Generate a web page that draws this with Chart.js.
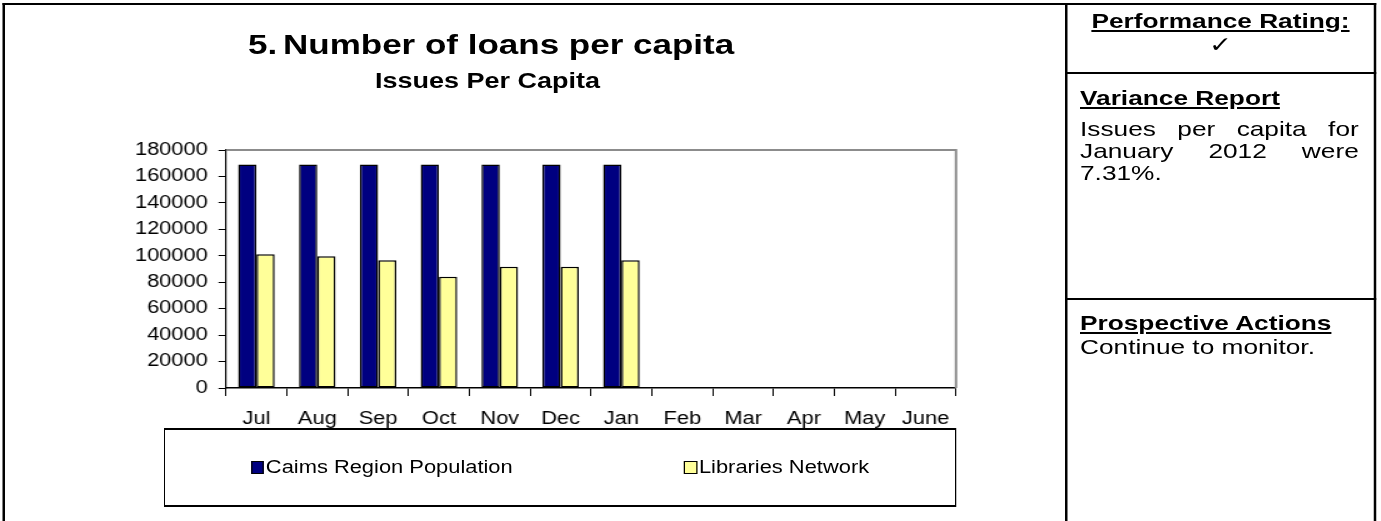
<!DOCTYPE html>
<html>
<head>
<meta charset="utf-8">
<title>Number of loans per capita</title>
<script src="https://cdn.jsdelivr.net/npm/chart.js@4.4.1/dist/chart.umd.min.js"></script>
<style>
  html, body { margin: 0; padding: 0; background: #fff; overflow: hidden; width: 1381px; height: 521px; }
  /* The report sheet is laid out in a narrower coordinate space and widened 1.25x. */
  #sheet { position: absolute; left: 0; top: 0; width: 1105px; height: 521px;
           transform: scaleX(1.25); transform-origin: 0 0;
           font-family: 'Liberation Sans', Arial, sans-serif; color: #000; }
  .rule { position: absolute; background: #000; }
  .txt { position: absolute; white-space: nowrap; }
  .heading { font-weight: bold; font-size: 28px; line-height: 28px; }
  .subtitle { font-weight: bold; font-size: 21.6px; line-height: 21.6px; text-align: center; }
  .hd { font-weight: bold; font-size: 21px; line-height: 21px; text-decoration: underline; text-decoration-thickness: 2px; text-underline-offset: 2px; }
  .body { font-size: 21px; line-height: 21px; }
  #chartBox { position: absolute; left: 0; top: 0; width: 852px; height: 521px; }
  #legendBox { position: absolute; left: 131.2px; top: 428px; width: 633.6px; height: 79px; box-sizing: border-box;
               border-style: solid; border-color: #000; border-width: 2px 1.6px;
               display: flex; justify-content: space-around; align-items: center;
               font-size: 17.5px; }
  .legItem { display: flex; align-items: center; white-space: nowrap; }
  .legKey { width: 10.5px; height: 12.5px; box-sizing: border-box; border: 1px solid #000; margin-right: 1.5px; }
</style>
</head>
<body>
<div id="sheet">
  <!-- outer frame and right-hand panel rules -->
  <div class="rule" style="left:2.4px; top:3px; width:1098.4px; height:2px;"></div>
  <div class="rule" style="left:2.4px; top:3px; width:1.6px; height:518px;"></div>
  <div class="rule" style="left:852px; top:3px; width:1.6px; height:518px;"></div>
  <div class="rule" style="left:1099.2px; top:3px; width:1.6px; height:518px;"></div>
  <div class="rule" style="left:852px; top:72px; width:248.8px; height:2px;"></div>
  <div class="rule" style="left:852px; top:297.5px; width:248.8px; height:2px;"></div>

  <!-- section heading and chart title -->
  <div class="txt heading" style="left:198.4px; top:31px;">5.</div>
  <div class="txt heading" style="left:226.4px; top:31px;">Number of loans per capita</div>
  <div class="txt subtitle" style="left:290px; width:200px; top:69.5px;">Issues Per Capita</div>

  <div id="chartBox"><canvas id="loansChart"></canvas></div>
  <div id="legendBox"></div>

  <!-- right-hand panel -->
  <div class="txt hd" style="left:853.6px; width:245.6px; text-align:center; top:9.7px;">Performance Rating:</div>
  <div class="txt" style="left:853.6px; width:245.6px; text-align:center; top:34.4px; font-family:'DejaVu Sans'; font-size:22px; line-height:22px;">&#10003;</div>
  <div class="txt hd" style="left:864px; top:86.7px;">Variance Report</div>
  <div style="position:absolute; left:864px; top:118.3px; width:223px; font-size:21px; line-height:21.75px; text-align:justify;">Issues per capita for January 2012 were 7.31%.</div>
  <div class="txt hd" style="left:864px; top:311.7px;">Prospective Actions</div>
  <div class="txt body" style="left:864px; top:335.7px;">Continue to monitor.</div>
</div>

<script>
  // Months of the financial year
  const months = ['Jul', 'Aug', 'Sep', 'Oct', 'Nov', 'Dec', 'Jan', 'Feb', 'Mar', 'Apr', 'May', 'June'];
  // Series names
  const seriesNames = ['Caims Region Population', 'Libraries Network'];
  // Regional population (Jul–Jan reported so far)
  const regionPopulation = [169000, 169000, 169000, 169000, 169000, 169000, 169000, null, null, null, null, null];
  // Library network issues per month
  const networkIssues = [101100, 99600, 96600, 84200, 91700, 91700, 96600, null, null, null, null, null];
  // Value axis ticks
  const yTickValues = [0, 20000, 40000, 60000, 80000, 100000, 120000, 140000, 160000, 180000];

  const seriesColors = ['#000080', '#FFFF99'];
  const axisFont = { family: "'Liberation Sans', Arial, sans-serif", size: 17.5 };

  // Grey border along the top and right of the plot area
  const plotFrame = {
    id: 'plotFrame',
    beforeDatasetsDraw(chart) {
      const { ctx, chartArea: a } = chart;
      ctx.save();
      ctx.strokeStyle = '#8c8c8c';
      ctx.lineWidth = 2;
      ctx.beginPath();
      ctx.moveTo(a.left, a.top);
      ctx.lineTo(a.right, a.top);
      ctx.lineTo(a.right, a.bottom);
      ctx.stroke();
      ctx.restore();
    }
  };

  const chart = new Chart(document.getElementById('loansChart'), {
    type: 'bar',
    data: {
      labels: months,
      datasets: [
        { label: seriesNames[0], data: regionPopulation, backgroundColor: seriesColors[0],
          borderColor: '#000', borderWidth: 1.5, borderSkipped: false },
        { label: seriesNames[1], data: networkIssues, backgroundColor: seriesColors[1],
          borderColor: '#000', borderWidth: 1.5, borderSkipped: false }
      ]
    },
    options: {
      responsive: true,
      maintainAspectRatio: false,
      animation: false,
      devicePixelRatio: 1,
      layout: { padding: { left: 80.8, right: 87.2, top: 150, bottom: 93 } },
      datasets: { bar: { categoryPercentage: 0.6, barPercentage: 1 } },
      plugins: {
        legend: { display: false },
        title: { display: false },
        tooltip: { enabled: false }
      },
      scales: {
        x: {
          grid: { offset: true, drawOnChartArea: false, drawTicks: true, tickLength: 8, color: '#000', lineWidth: 1 },
          border: { display: true, color: '#000', width: 1.5 },
          ticks: { color: '#000', font: axisFont, padding: 13, maxRotation: 0, autoSkip: false },
          afterFit: s => { s.height = 40; }
        },
        y: {
          min: 0,
          max: 180000,
          afterBuildTicks: s => { s.ticks = yTickValues.map(v => ({ value: v })); },
          grid: { drawOnChartArea: false, drawTicks: true, tickLength: 6, color: '#000', lineWidth: 1 },
          border: { display: true, color: '#000', width: 1.2 },
          ticks: { color: '#000', font: axisFont, padding: 8.5, callback: v => String(v) },
          afterFit: s => { s.width = 100; }
        }
      }
    },
    plugins: [plotFrame]
  });

  // Legend built from the chart's own datasets
  const legendBox = document.getElementById('legendBox');
  chart.data.datasets.forEach(ds => {
    const item = document.createElement('div');
    item.className = 'legItem';
    const key = document.createElement('span');
    key.className = 'legKey';
    key.style.background = ds.backgroundColor;
    const label = document.createElement('span');
    label.textContent = ds.label;
    item.appendChild(key);
    item.appendChild(label);
    legendBox.appendChild(item);
  });
</script>
</body>
</html>
